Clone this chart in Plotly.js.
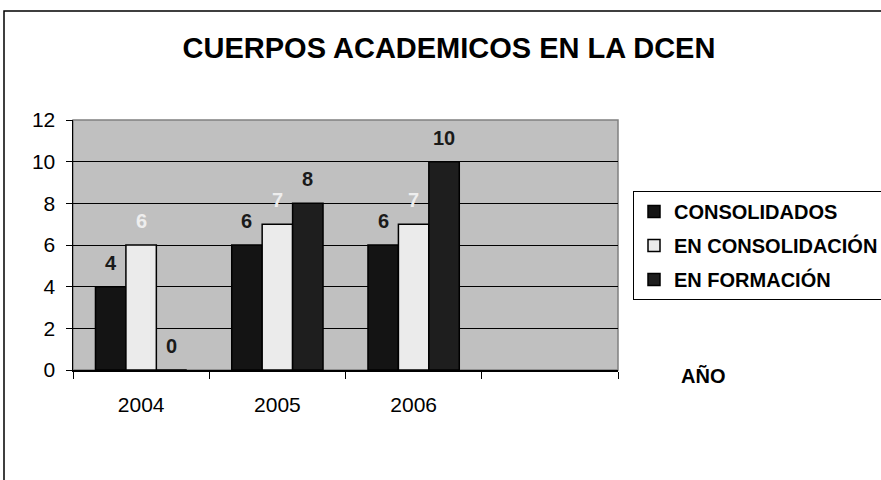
<!DOCTYPE html>
<html>
<head>
<meta charset="utf-8">
<script src="https://cdn.plot.ly/plotly-3.0.1.min.js"></script>
<style>
  html, body { margin: 0; padding: 0; background: #ffffff; }
  #chart { width: 881px; height: 480px; }
</style>
</head>
<body>
<div id="chart"></div>
<script>
// ---- data ----
const categories = ['2004', '2005', '2006', '-'];
const tickLabels = ['2004', '2005', '2006', ''];
const consolidados = [4, 6, 6, null];
const enConsolidacion = [6, 7, 7, null];
const enFormacion = [0, 8, 10, null];
const seriesNames = ['CONSOLIDADOS', 'EN CONSOLIDACIÓN', 'EN FORMACIÓN'];
const yTickVals = [0, 2, 4, 6, 8, 10, 12];
const titleText = 'CUERPOS ACADEMICOS EN LA DCEN';
const xTitleText = 'AÑO';

// ---- styles ----
const FONT = 'Liberation Sans, Arial, sans-serif';
const barColors = ['#141414', '#ebebeb', '#1e1e1e'];
const labelColors = ['#1a1a1a', '#eeeeee', '#1a1a1a'];
const W = 881, H = 480;
const margin = { l: 73, r: 263, t: 120, b: 110, autoexpand: false };
const bargap = 0.33;
const plotW = W - margin.l - margin.r;
const plotH = H - margin.t - margin.b;
const barPx = plotW / categories.length * (1 - bargap) / 3;

const seriesValues = [consolidados, enConsolidacion, enFormacion];

const traces = seriesValues.map((vals, i) => ({
  type: 'bar',
  name: seriesNames[i],
  x: categories,
  y: vals,
  legendgroup: 'g' + i,
  marker: { color: barColors[i], line: { color: '#000000', width: 1.5 } },
  hoverinfo: 'skip'
}));

const annotations = [];
seriesValues.forEach((vals, i) => {
  vals.forEach((v, j) => {
    if (v === null) return;
    annotations.push({
      x: j, y: v, xref: 'x', yref: 'y',
      text: String(v), showarrow: false,
      xanchor: 'center', yanchor: 'bottom',
      xshift: (i - 1) * barPx, yshift: 11,
      font: { family: FONT, size: 20, color: labelColors[i], weight: 'bold' }
    });
  });
});
annotations.push({
  xref: 'paper', yref: 'paper', x: (703 - margin.l) / plotW, y: -6 / plotH,
  text: xTitleText, showarrow: false, xanchor: 'center', yanchor: 'middle',
  font: { family: FONT, size: 20, color: '#000000', weight: 'bold' }
});

const layout = {
  width: W, height: H,
  margin: margin,
  paper_bgcolor: '#ffffff',
  plot_bgcolor: '#c0c0c0',
  barmode: 'group',
  bargap: bargap,
  bargroupgap: 0,
  showlegend: true,
  title: {
    text: titleText,
    x: 449 / W, xref: 'container', xanchor: 'center',
    y: 1 - 48 / H, yref: 'container', yanchor: 'middle',
    font: { family: FONT, size: 29, color: '#000000', weight: 'bold' }
  },
  xaxis: {
    type: 'category',
    categoryorder: 'array', categoryarray: categories,
    range: [-0.5, categories.length - 0.5], autorange: false,
    tickmode: 'array', tickvals: categories, ticktext: tickLabels,
    tickson: 'boundaries',
    ticks: 'outside', ticklen: 7, tickcolor: '#000000', tickwidth: 1,
    showline: true, linecolor: '#000000', linewidth: 1.5,
    showgrid: false, zeroline: false,
    tickangle: 0,
    ticklabelstandoff: 15,
    tickfont: { family: FONT, size: 21, color: '#000000' },
    fixedrange: true
  },
  yaxis: {
    range: [0, 12], autorange: false,
    tickvals: yTickVals,
    ticktext: yTickVals.map(String),
    ticks: 'outside', ticklen: 6, tickcolor: '#000000', tickwidth: 1,
    showline: true, linecolor: '#000000', linewidth: 1.5,
    showgrid: true, gridcolor: '#000000', gridwidth: 1,
    zeroline: false,
    ticklabelstandoff: 6,
    tickfont: { family: FONT, size: 21, color: '#000000' },
    fixedrange: true
  },
  legend: {
    x: (633 - margin.l) / plotW, xanchor: 'left',
    y: (370 - 191) / plotH, yanchor: 'top',
    bgcolor: '#ffffff', bordercolor: '#000000', borderwidth: 1,
    traceorder: 'grouped', tracegroupgap: 5,
    itemwidth: 30,
    font: { family: FONT, size: 20, color: '#000000', weight: 'bold' }
  },
  shapes: [
    { type: 'rect', xref: 'paper', yref: 'paper', x0: 0, x1: 1, y0: 0, y1: 1,
      line: { color: '#808080', width: 1.5 }, fillcolor: 'rgba(0,0,0,0)', layer: 'below' },
    { type: 'rect', xref: 'paper', yref: 'paper',
      x0: (4 - margin.l) / plotW, x1: (W + 20 - margin.l) / plotW,
      y0: -(H + 20 - margin.t - plotH) / plotH, y1: (margin.t + plotH - 11) / plotH,
      line: { color: '#000000', width: 1.5 }, fillcolor: 'rgba(0,0,0,0)', layer: 'above' }
  ],
  annotations: annotations
};

Plotly.newPlot('chart', traces, layout, { staticPlot: true, displayModeBar: false });
</script>
</body>
</html>
